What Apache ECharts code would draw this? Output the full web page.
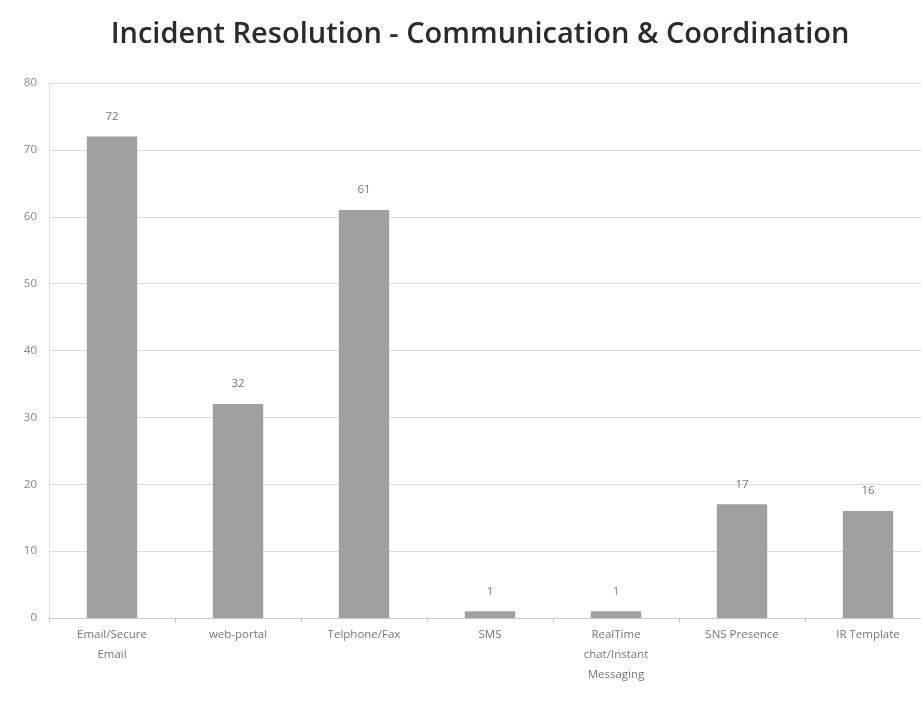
<!DOCTYPE html>
<html>
<head>
<meta charset="utf-8">
<script src="https://cdn.jsdelivr.net/npm/echarts@6/dist/echarts.min.js"></script>
<style>
  html, body { margin: 0; padding: 0; background: #fff; overflow: hidden; }
  /* the plot area runs a little past the right edge in the original */
  #container { width: 931px; height: 716px; }
</style>
</head>
<body>
<div id="container"></div>
<script>
// data
var categories = ['Email/Secure\nEmail', 'web-portal', 'Telphone/Fax', 'SMS', 'RealTime\nchat/Instant\nMessaging', 'SNS Presence', 'IR Template']
var counts = [72, 32, 61, 1, 1, 17, 16]
var yTicks = [0, 10, 20, 30, 40, 50, 60, 70, 80]

var dom = document.getElementById('container')
var myChart = echarts.init(dom, null, { renderer: 'canvas' })

var option = {
    backgroundColor: '#fff',
    title: {
        text: 'Incident Resolution - Communication & Coordination',
        left: 475,
        textAlign: 'center',
        top: 15,
        textStyle: {
            fontFamily: 'Open Sans',
            fontSize: 29,
            fontWeight: 600,
            color: '#2b2b2b'
        }
    },
    grid: {
        left: 49,
        right: 0,
        top: 83,
        bottom: 98
    },
    xAxis: {
        type: 'category',
        data: categories,
        axisLine: { lineStyle: { color: '#c8c8c8' } },
        axisTick: { show: true, length: 5, lineStyle: { color: '#c8c8c8' } },
        axisLabel: {
            color: '#777',
            fontFamily: 'Open Sans',
            fontSize: 11.5,
            lineHeight: 20,
            margin: 7,
            interval: 0
        }
    },
    yAxis: {
        type: 'value',
        min: yTicks[0],
        max: yTicks[yTicks.length - 1],
        interval: 10,
        axisLine: { show: true, lineStyle: { color: '#e0e0e0' } },
        axisTick: { show: false },
        splitLine: { lineStyle: { color: '#dcdcdc', width: 1 } },
        axisLabel: {
            color: '#888',
            fontFamily: 'Open Sans',
            fontSize: 11.5,
            margin: 12
        }
    },
    series: [
        {
            type: 'bar',
            data: counts,
            barWidth: '40%',
            itemStyle: { color: '#a0a0a0' },
            label: {
                show: true,
                position: 'top',
                distance: 14,
                color: '#777',
                fontFamily: 'Open Sans',
                fontSize: 11.5
            }
        }
    ]
}

myChart.setOption(option)
window.addEventListener('resize', myChart.resize)
</script>
</body>
</html>
